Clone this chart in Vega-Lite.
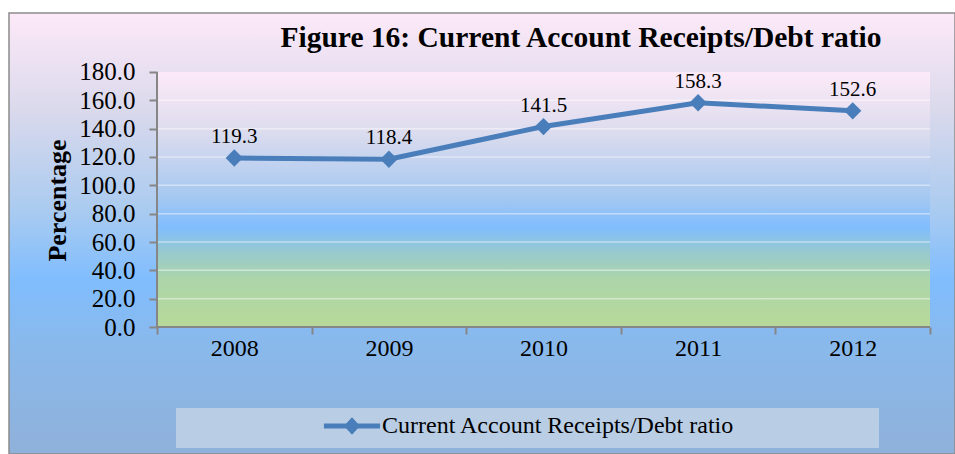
{
  "$schema": "https://vega.github.io/schema/vega-lite/v6.json",
  "width": 946,
  "height": 441,
  "autosize": {"type": "none"},
  "padding": {"left": 9, "top": 13, "right": 0, "bottom": 0},
  "background": "#ffffff",
  "config": {
    "view": {
      "stroke": "#8c8c8c",
      "strokeWidth": 1.5,
      "fill": {
        "gradient": "linear", "x1": 0, "y1": 0, "x2": 0, "y2": 1,
        "stops": [
          {"offset": 0, "color": "#fde9f8"},
          {"offset": 0.22, "color": "#dad9ec"},
          {"offset": 0.447, "color": "#aacbf0"},
          {"offset": 0.605, "color": "#80bdfe"},
          {"offset": 0.748, "color": "#89b9ec"},
          {"offset": 1, "color": "#8fb1da"}
        ]
      }
    }
  },
  "title": {
    "text": "Figure 16: Current Account Receipts/Debt ratio",
    "font": "Liberation Serif",
    "fontSize": 29.5,
    "fontWeight": "bold",
    "color": "#000000",
    "anchor": "middle",
    "dx": 99,
    "offset": -63,
    "baseline": "alphabetic"
  },
  "data": {
    "values": [
      {"year": 2008, "value": 119.3, "series": "Current Account Receipts/Debt ratio"},
      {"year": 2009, "value": 118.4, "series": "Current Account Receipts/Debt ratio"},
      {"year": 2010, "value": 141.5, "series": "Current Account Receipts/Debt ratio"},
      {"year": 2011, "value": 158.3, "series": "Current Account Receipts/Debt ratio"},
      {"year": 2012, "value": 152.6, "series": "Current Account Receipts/Debt ratio"}
    ]
  },
  "layer": [
    {
      "data": {"values": [{}]},
      "mark": {
        "type": "rect",
        "color": {
          "gradient": "linear", "x1": 0, "y1": 0, "x2": 0, "y2": 1,
          "stops": [
            {"offset": 0, "color": "#fdeaf8"},
            {"offset": 0.235, "color": "#dcdcee"},
            {"offset": 0.49, "color": "#a5c8f1"},
            {"offset": 0.61, "color": "#80bdfe"},
            {"offset": 0.71, "color": "#98cacd"},
            {"offset": 0.81, "color": "#acd5aa"},
            {"offset": 1, "color": "#b7d898"}
          ]
        }
      },
      "encoding": {
        "x": {
          "datum": 2007.5, "type": "quantitative",
          "scale": {"domain": [2006.54269, 2012.6617], "nice": false, "zero": false},
          "axis": {
            "orient": "bottom",
            "offset": -127,
            "values": [2007.5, 2008.5, 2009.5, 2010.5, 2011.5, 2012.5],
            "labelExpr": "datum.value < 2012 ? format(datum.value + 0.5, 'd') : ''",
            "labelOffset": 77.3,
            "labelFlush": false,
            "labelOverlap": false,
            "labelFont": "Liberation Serif",
            "labelFontSize": 24,
            "labelColor": "#000000",
            "labelPadding": 2,
            "tickColor": "#868686",
            "tickWidth": 2,
            "tickSize": 7,
            "domain": false,
            "grid": false,
            "title": null
          }
        },
        "x2": {"datum": 2012.5},
        "y": {
          "datum": 0, "type": "quantitative",
          "scale": {"domain": [-89.647, 221.647], "nice": false, "zero": false},
          "axis": {
            "orient": "left",
            "offset": -148,
            "values": [0, 20, 40, 60, 80, 100, 120, 140, 160, 180],
            "format": ".1f",
            "labelFont": "Liberation Serif",
            "labelFontSize": 25,
            "labelColor": "#000000",
            "labelPadding": 14,
            "tickColor": "#868686",
            "tickWidth": 2,
            "tickSize": 8,
            "domain": false,
            "grid": false,
            "title": "Percentage",
            "titleFont": "Liberation Serif",
            "titleFontSize": 26,
            "titleFontWeight": "bold",
            "titleColor": "#000000",
            "titlePadding": 8,
            "titleY": 187
          }
        },
        "y2": {"datum": 180}
      }
    },
    {
      "data": {"values": [{"v": 20}, {"v": 40}, {"v": 60}, {"v": 80}, {"v": 100}, {"v": 120}, {"v": 140}, {"v": 160}]},
      "mark": {"type": "rule", "color": "#ffffff", "opacity": 0.45, "strokeWidth": 1.5},
      "encoding": {
        "x": {"datum": 2007.5, "type": "quantitative", "scale": {"domain": [2006.54269, 2012.6617], "nice": false, "zero": false}},
        "x2": {"datum": 2012.5},
        "y": {"field": "v", "type": "quantitative", "scale": {"domain": [-89.647, 221.647], "nice": false, "zero": false}}
      }
    },
    {
      "data": {"values": [{}]},
      "mark": {"type": "rule", "color": "#868686", "strokeWidth": 2},
      "encoding": {
        "x": {"datum": 2007.5, "type": "quantitative", "scale": {"domain": [2006.54269, 2012.6617], "nice": false, "zero": false}},
        "y": {"datum": 0, "type": "quantitative", "scale": {"domain": [-89.647, 221.647], "nice": false, "zero": false}},
        "y2": {"datum": 180}
      }
    },
    {
      "data": {"values": [{}]},
      "mark": {"type": "rule", "color": "#868686", "strokeWidth": 2},
      "encoding": {
        "x": {"datum": 2007.5, "type": "quantitative", "scale": {"domain": [2006.54269, 2012.6617], "nice": false, "zero": false}},
        "x2": {"datum": 2012.5},
        "y": {"datum": 0, "type": "quantitative", "scale": {"domain": [-89.647, 221.647], "nice": false, "zero": false}}
      }
    },
    {
      "mark": {"type": "line", "strokeWidth": 5},
      "encoding": {
        "x": {"field": "year", "type": "quantitative", "scale": {"domain": [2006.54269, 2012.6617], "nice": false, "zero": false}},
        "y": {"field": "value", "type": "quantitative", "scale": {"domain": [-89.647, 221.647], "nice": false, "zero": false}},
        "color": {
          "field": "series", "type": "nominal",
          "scale": {"range": ["#4a7ebb"]},
          "legend": {
            "orient": "none",
            "legendX": 167,
            "legendY": 395,
            "title": null,
            "fillColor": "#b9cde5",
            "padding": 6,
            "symbolType": "M-3.3,0L3.3,0M-0.55,0L0,-0.6L0.55,0L0,0.6Z",
            "symbolSize": 289,
            "symbolStrokeWidth": 5,
            "symbolStrokeColor": "#4a7ebb",
            "symbolFillColor": "#4a7ebb",
            "symbolOffset": 158,
            "labelOffset": 18,
            "labelFont": "Liberation Serif",
            "labelFontSize": 24,
            "labelColor": "#000000",
            "labelLimit": 0,
            "labelExpr": "datum.label + '\u00a0\u00a0\u00a0\u00a0\u00a0\u00a0\u00a0\u00a0\u00a0\u00a0\u00a0\u00a0\u00a0\u00a0\u00a0\u00a0\u00a0\u00a0\u00a0\u00a0\u00a0\u00a0\u00a0\u200b'"
          }
        }
      }
    },
    {
      "mark": {"type": "point", "shape": "diamond", "filled": true, "size": 300, "opacity": 1},
      "encoding": {
        "x": {"field": "year", "type": "quantitative", "scale": {"domain": [2006.54269, 2012.6617], "nice": false, "zero": false}},
        "y": {"field": "value", "type": "quantitative", "scale": {"domain": [-89.647, 221.647], "nice": false, "zero": false}},
        "color": {"field": "series", "type": "nominal", "scale": {"range": ["#4a7ebb"]}}
      }
    },
    {
      "mark": {"type": "text", "font": "Liberation Serif", "fontSize": 21, "color": "#000000", "baseline": "alphabetic", "align": "center", "dy": -15},
      "encoding": {
        "x": {"field": "year", "type": "quantitative", "scale": {"domain": [2006.54269, 2012.6617], "nice": false, "zero": false}},
        "y": {"field": "value", "type": "quantitative", "scale": {"domain": [-89.647, 221.647], "nice": false, "zero": false}},
        "text": {"field": "value", "type": "quantitative", "format": ".1f"}
      }
    }
  ]
}
